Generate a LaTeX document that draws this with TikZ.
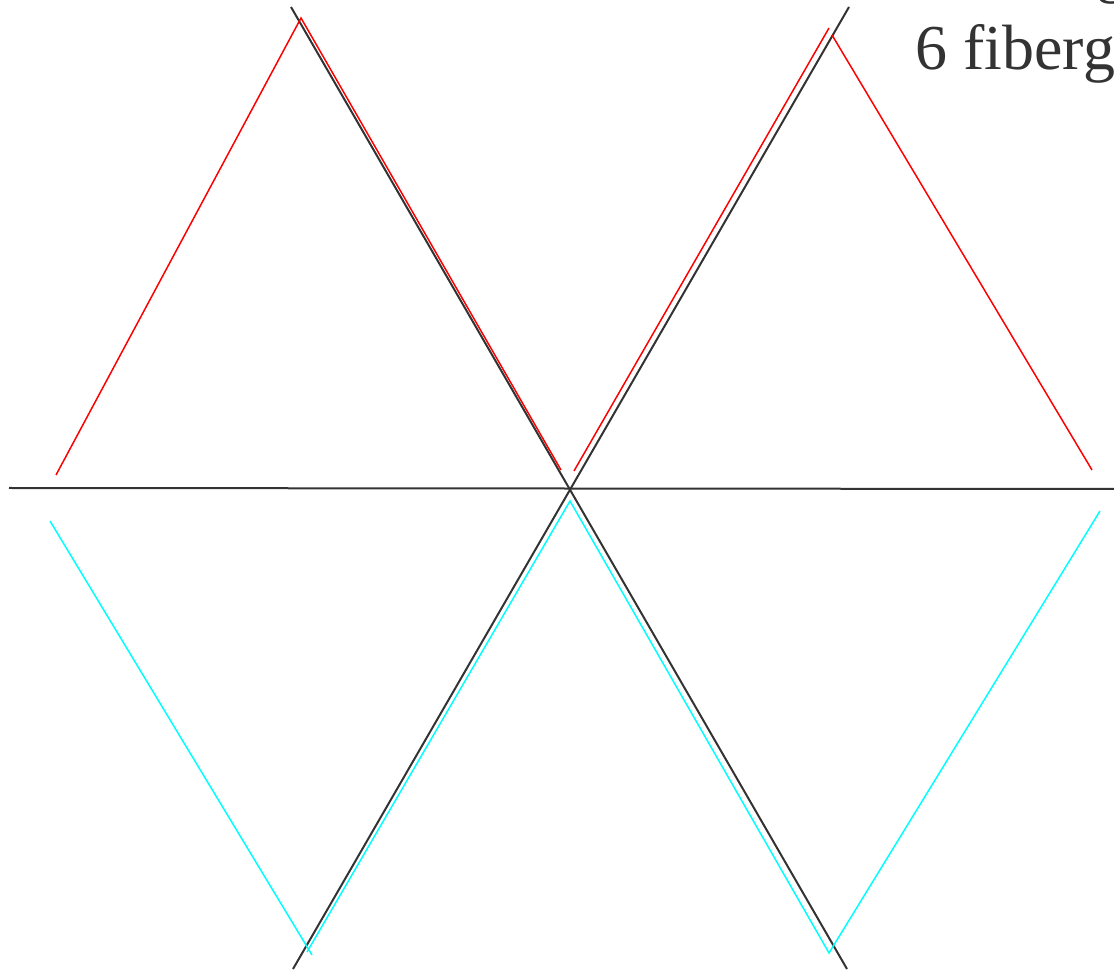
\documentclass[tikz,border=0pt]{standalone}
\usepackage{fontspec}
\setmainfont{Liberation Serif}
\usetikzlibrary{calc}
\definecolor{inkgray}{HTML}{333333}
\definecolor{lowcyan}{RGB}{0,255,255}
\definecolor{upred}{RGB}{255,0,0}
\tikzset{axisline/.style={inkgray, line width=1pt},
  upline/.style={upred, line width=0.75pt},
  lowline/.style={lowcyan, line width=0.75pt},
  caption/.style={inkgray, inner sep=0pt, anchor=base west, font=\fontsize{32}{38}\selectfont}}

\begin{document}
\begin{tikzpicture}[x=0.5pt,y=-0.5pt]
\useasboundingbox (0,0) rectangle (1114,972);
\clip (0,0) rectangle (1114,972);
% three axes through the centre
\coordinate (o) at (570,489);
\draw[axisline] (9,488) -- (1114,489);
\draw[axisline] (291,7) -- (847,969);
\draw[axisline] (849,7) -- (293,969);
% upper (red) triangles
\draw[upline] (56,475) -- (301,18) -- (561,470);
\draw[upline] (574,471) -- (829,28);
\draw[upline] (832,35) -- (1092,470);
% lower (cyan) triangles
\draw[lowline] (50,521) -- (312,955);
\draw[lowline] (307,952) -- (570,501) -- (829,953) -- (1100,511);
% text, cut by the border
\node[caption] (topline) at (1096,-9) {g};
\node[caption] (label) at (915,70) {6 fiberg};
\end{tikzpicture}
\end{document}
